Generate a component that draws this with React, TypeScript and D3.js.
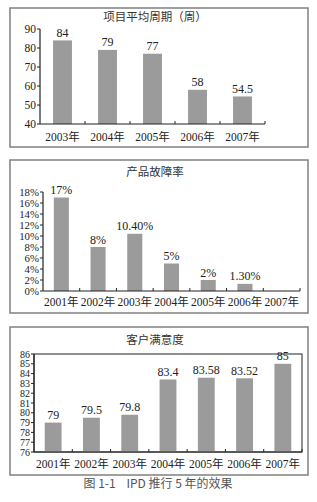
import React from "react";
import * as d3 from "d3";

const cycleYears = ["2003年", "2004年", "2005年", "2006年", "2007年"];
const cycleValues = [84, 79, 77, 58, 54.5];
const cycleLabels = ["84", "79", "77", "58", "54.5"];
const cycleTicks = [40, 50, 60, 70, 80, 90];

const faultYears = ["2001年", "2002年", "2003年", "2004年", "2005年", "2006年", "2007年"];
const faultValues: (number | null)[] = [17, 8, 10.4, 5, 2, 1.3, null];
const faultLabels = ["17%", "8%", "10.40%", "5%", "2%", "1.30%", ""];
const faultTicks = [0, 2, 4, 6, 8, 10, 12, 14, 16, 18];

const satYears = ["2001年", "2002年", "2003年", "2004年", "2005年", "2006年", "2007年"];
const satValues = [79, 79.5, 79.8, 83.4, 83.58, 83.52, 85];
const satLabels = ["79", "79.5", "79.8", "83.4", "83.58", "83.52", "85"];
const satTicks = [76, 77, 78, 79, 80, 81, 82, 83, 84, 85, 86];

const SERIF = "'Liberation Serif', 'Noto Sans CJK SC', serif";
const BAR = "#9b9b9b";
const AXIS = "#222";

type PanelProps = {
  box: [number, number, number, number];
  title: string;
  titleY: number;
  cats: string[];
  values: (number | null)[];
  labels: string[];
  ticks: number[];
  tickFmt: (v: number) => string;
  tickSize: number;
  domain: [number, number];
  x0: number;
  x1: number;
  yTop: number;
  yBot: number;
  barRatio: number;
  labelY: number;
  frame?: boolean;
};

function Panel(p: PanelProps) {
  const x = d3.scaleBand<string>().domain(p.cats).range([p.x0, p.x1]).paddingInner(0).paddingOuter(0);
  const y = d3.scaleLinear().domain(p.domain).range([p.yBot, p.yTop]);
  const bw = x.bandwidth() * p.barRatio;
  const [bx, by, bwid, bh] = p.box;
  return (
    <g>
      <rect x={bx} y={by} width={bwid} height={bh} fill="#fff" stroke="#808080" strokeWidth={1.5} />
      <text x={bx + bwid / 2 - 4} y={p.titleY} textAnchor="middle" fontFamily={SERIF} fontSize={11.5} fill="#333">
        {p.title}
      </text>
      {p.frame && (
        <rect x={p.x0} y={p.yTop} width={p.x1 - p.x0} height={p.yBot - p.yTop} fill="none" stroke={AXIS} strokeWidth={1} />
      )}
      {p.values.map((v, i) =>
        v == null ? null : (
          <rect key={i} x={(x(p.cats[i]) as number) + (x.bandwidth() - bw) / 2} y={y(v)} width={bw} height={p.yBot - y(v)} fill={BAR} />
        )
      )}
      {p.values.map((v, i) =>
        v == null ? null : (
          <text key={"l" + i} x={(x(p.cats[i]) as number) + x.bandwidth() / 2} y={y(v) - 3.5} textAnchor="middle" fontFamily={SERIF} fontSize={12} fill="#222">
            {p.labels[i]}
          </text>
        )
      )}
      <line x1={p.x0} x2={p.x0} y1={p.yTop} y2={p.yBot} stroke={AXIS} strokeWidth={1.2} />
      <line x1={p.x0} x2={p.x1} y1={p.yBot} y2={p.yBot} stroke={AXIS} strokeWidth={1.2} />
      {p.ticks.map((t) => (
        <g key={t}>
          <line x1={p.x0 - 3} x2={p.x0} y1={y(t)} y2={y(t)} stroke={AXIS} strokeWidth={1} />
          <text x={p.x0 - 4} y={y(t)} dy="0.35em" textAnchor="end" fontFamily={SERIF} fontSize={p.tickSize} fill="#222">
            {p.tickFmt(t)}
          </text>
        </g>
      ))}
      {p.cats.map((c, i) => (
        <g key={c}>
          <line x1={(x(c) as number) + x.bandwidth()} x2={(x(c) as number) + x.bandwidth()} y1={p.yBot} y2={p.yBot - 3} stroke={AXIS} strokeWidth={1} />
          <text x={(x(c) as number) + x.bandwidth() / 2} y={p.labelY} dy="0.35em" textAnchor="middle" fontFamily={SERIF} fontSize={11.5} fill="#222">
            {c}
          </text>
        </g>
      ))}
    </g>
  );
}

export default function App() {
  return (
    <svg width={317} height={502} style={{ position: "absolute", left: 0, top: 0, background: "#fff" }}>
      <Panel
        box={[10, 8, 298, 139]}
        title="项目平均周期（周）"
        titleY={21}
        cats={cycleYears}
        values={cycleValues}
        labels={cycleLabels}
        ticks={cycleTicks}
        tickFmt={(v) => String(v)}
        tickSize={11.5}
        domain={[40, 90]}
        x0={40}
        x1={265}
        yTop={29}
        yBot={124}
        barRatio={0.42}
        labelY={137}
      />
      <Panel
        box={[10, 160, 298, 153]}
        title="产品故障率"
        titleY={176}
        cats={faultYears}
        values={faultValues}
        labels={faultLabels}
        ticks={faultTicks}
        tickFmt={(v) => v + "%"}
        tickSize={10.8}
        domain={[0, 18]}
        x0={43}
        x1={300}
        yTop={192}
        yBot={291}
        barRatio={0.41}
        labelY={302}
      />
      <Panel
        box={[10, 327, 298, 148]}
        title="客户满意度"
        titleY={344}
        cats={satYears}
        values={satValues}
        labels={satLabels}
        ticks={satTicks}
        tickFmt={(v) => String(v)}
        tickSize={10}
        domain={[76, 86]}
        x0={34}
        x1={302}
        yTop={354}
        yBot={452}
        barRatio={0.44}
        labelY={464}
        frame
      />
      <text x={158} y={488} textAnchor="middle" fontFamily="'Noto Sans CJK SC', sans-serif" fontSize={12} fill="#555" style={{ whiteSpace: "pre" }}>
        {"图 1-1    IPD 推行 5 年的效果"}
      </text>
    </svg>
  );
}
